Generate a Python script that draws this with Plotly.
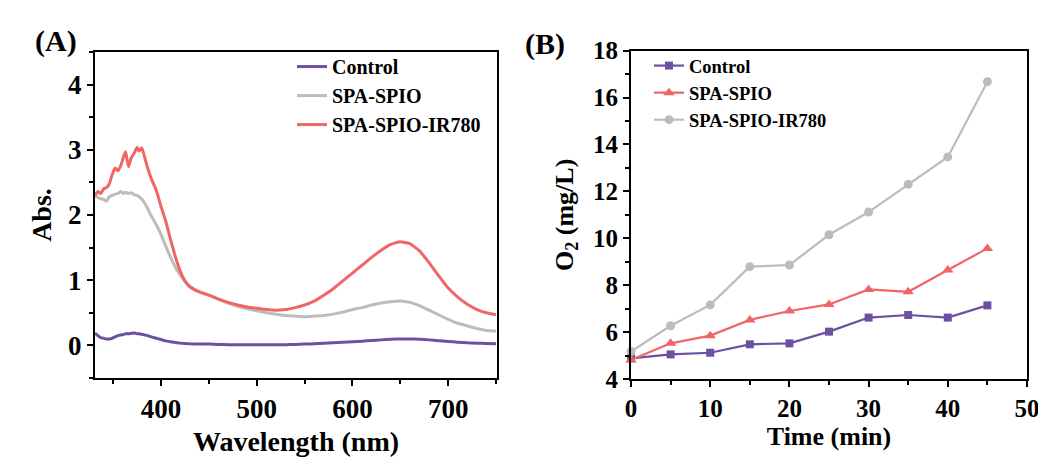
import plotly.graph_objects as go

# ---------------- Panel A data (UV-vis spectra) ----------------
wavelength = [331, 334, 337, 340, 343, 346, 349, 352, 355, 358, 361, 363, 366, 369, 372, 375, 377, 380,
              383, 386, 390, 395, 400, 405, 410, 415, 420, 425, 430, 440, 450, 460, 470, 480, 490, 500,
              510, 520, 530, 540, 550, 560, 570, 580, 590, 600, 610, 620, 630, 640, 650, 660, 670, 680,
              690, 700, 710, 720, 730, 740, 750]
abs_control = [0.19, 0.15, 0.12, 0.11, 0.10, 0.10, 0.11, 0.13, 0.15, 0.16, 0.17, 0.18, 0.18, 0.185, 0.19, 0.18, 0.18, 0.17,
               0.16, 0.15, 0.13, 0.11, 0.09, 0.07, 0.055, 0.045, 0.035, 0.03, 0.025, 0.02, 0.02, 0.015, 0.01, 0.01, 0.01, 0.01,
               0.01, 0.01, 0.012, 0.015, 0.02, 0.025, 0.032, 0.04, 0.048, 0.055, 0.065, 0.075, 0.085, 0.095, 0.10, 0.10, 0.095, 0.085,
               0.072, 0.06, 0.05, 0.04, 0.035, 0.03, 0.025]
abs_spa_spio = [2.30, 2.27, 2.25, 2.24, 2.21, 2.28, 2.30, 2.32, 2.33, 2.36, 2.33, 2.35, 2.33, 2.34, 2.31, 2.30, 2.28, 2.24,
                2.18, 2.10, 1.98, 1.85, 1.70, 1.52, 1.35, 1.20, 1.08, 0.98, 0.91, 0.82, 0.77, 0.71, 0.65, 0.60, 0.56, 0.53,
                0.50, 0.48, 0.46, 0.45, 0.44, 0.45, 0.46, 0.48, 0.51, 0.55, 0.58, 0.62, 0.65, 0.67, 0.68, 0.66, 0.61, 0.54,
                0.47, 0.40, 0.34, 0.30, 0.26, 0.23, 0.22]
abs_spa_spio_ir780 = [2.30, 2.36, 2.33, 2.40, 2.42, 2.48, 2.62, 2.72, 2.68, 2.76, 2.90, 2.97, 2.74, 2.88, 2.95, 3.04, 2.98, 3.03,
                      2.88, 2.72, 2.55, 2.38, 2.13, 1.90, 1.62, 1.36, 1.14, 0.99, 0.90, 0.82, 0.77, 0.71, 0.66, 0.62, 0.59, 0.57,
                      0.55, 0.54, 0.55, 0.58, 0.62, 0.68, 0.77, 0.87, 0.99, 1.11, 1.23, 1.35, 1.46, 1.55, 1.59, 1.56, 1.45, 1.27,
                      1.07, 0.88, 0.74, 0.63, 0.55, 0.50, 0.47]

# ---------------- Panel B data (O2 generation) ----------------
time_min = [0, 5, 10, 15, 20, 25, 30, 35, 40, 45]
o2_control = [4.88, 5.05, 5.12, 5.48, 5.52, 6.02, 6.62, 6.73, 6.62, 7.14]
o2_spa_spio = [4.81, 5.52, 5.85, 6.52, 6.90, 7.18, 7.82, 7.72, 8.65, 9.57]
o2_spa_spio_ir780 = [5.17, 6.27, 7.16, 8.79, 8.86, 10.15, 11.12, 12.30, 13.47, 16.68]

series_names = ["Control", "SPA-SPIO", "SPA-SPIO-IR780"]

PURPLE = "#6c50a2"
GRAY = "#bfbbbb"
RED = "#f06666"
FONT = "Liberation Serif"

fig = go.Figure()

# Panel A traces
for name, ys, col in zip(series_names, [abs_control, abs_spa_spio, abs_spa_spio_ir780], [PURPLE, GRAY, RED]):
    fig.add_trace(go.Scatter(x=wavelength, y=ys, name=name, mode="lines",
                             line=dict(color=col, width=3, shape="spline", smoothing=0.4),
                             xaxis="x", yaxis="y", legend="legend"))

# Panel B traces
for name, ys, col, sym, sz in zip(series_names, [o2_control, o2_spa_spio, o2_spa_spio_ir780],
                                  [PURPLE, RED, GRAY], ["square", "triangle-up", "circle"], [8, 10, 9]):
    fig.add_trace(go.Scatter(x=time_min, y=ys, name=name, mode="lines+markers",
                             line=dict(color=col, width=2.2),
                             marker=dict(symbol=sym, size=sz, color=col),
                             cliponaxis=False,
                             xaxis="x2", yaxis="y2", legend="legend2"))

axis_common = dict(showline=True, linecolor="black", linewidth=2, mirror=True,
                   ticks="outside", ticklen=6, tickwidth=2, tickcolor="black",
                   showgrid=False, zeroline=False, automargin=False)

fig.update_layout(
    width=1038, height=449,
    margin=dict(l=0, r=0, t=0, b=0, autoexpand=False),
    paper_bgcolor="white", plot_bgcolor="white",
    font=dict(family=FONT, color="black", weight="bold"),
    xaxis=dict(domain=[0.0838, 0.4711], range=[331, 751], tick0=400, dtick=100,
               tickfont=dict(size=27, family=FONT, weight="bold"),
               minor=dict(ticks="outside", ticklen=4, tickwidth=2, tickcolor="black", dtick=50, tick0=400),
               title=dict(text="Wavelength (nm)", font=dict(size=28, family=FONT, weight="bold"), standoff=9),
               anchor="y", **axis_common),
    yaxis=dict(domain=[0.1759, 0.9020], range=[-0.5, 4.5], tick0=0, dtick=1,
               tickfont=dict(size=27, family=FONT, weight="bold"),
               minor=dict(ticks="outside", ticklen=4, tickwidth=2, tickcolor="black", dtick=0.5, tick0=0),
               title=dict(text="Abs.", font=dict(size=28, family=FONT, weight="bold"), standoff=8),
               anchor="x", **axis_common),
    xaxis2=dict(domain=[0.6002, 0.9817], range=[0, 50], tick0=0, dtick=10,
                tickfont=dict(size=25, family=FONT, weight="bold"),
                minor=dict(ticks="outside", ticklen=4, tickwidth=2, tickcolor="black", dtick=5, tick0=0),
                title=dict(text="Time (min)", font=dict(size=26, family=FONT, weight="bold"), standoff=5),
                anchor="y2", **axis_common),
    yaxis2=dict(domain=[0.1737, 0.9049], range=[4, 18], tick0=4, dtick=2,
                tickfont=dict(size=25, family=FONT, weight="bold"),
                minor=dict(ticks="outside", ticklen=4, tickwidth=2, tickcolor="black", dtick=1, tick0=4),
                title=dict(text="O<sub>2</sub> (mg/L)", font=dict(size=26, family=FONT, weight="bold"), standoff=12),
                anchor="x2", **axis_common),
    legend=dict(x=0.2736, y=0.913, xanchor="left", yanchor="top", bgcolor="rgba(0,0,0,0)",
                font=dict(size=20, family=FONT, weight="bold"), tracegroupgap=0, itemwidth=30),
    legend2=dict(x=0.6175, y=0.913, xanchor="left", yanchor="top", bgcolor="rgba(0,0,0,0)",
                 font=dict(size=18.5, family=FONT, weight="bold"), tracegroupgap=0, itemwidth=30),
    annotations=[
        dict(text="(A)", x=0.0241, y=0.9688, xref="paper", yref="paper", showarrow=False,
             font=dict(size=30, family=FONT, weight="bold")),
        dict(text="(B)", x=0.5173, y=0.962, xref="paper", yref="paper", showarrow=False,
             font=dict(size=30, family=FONT, weight="bold")),
    ],
)

fig.write_html("out.html")
